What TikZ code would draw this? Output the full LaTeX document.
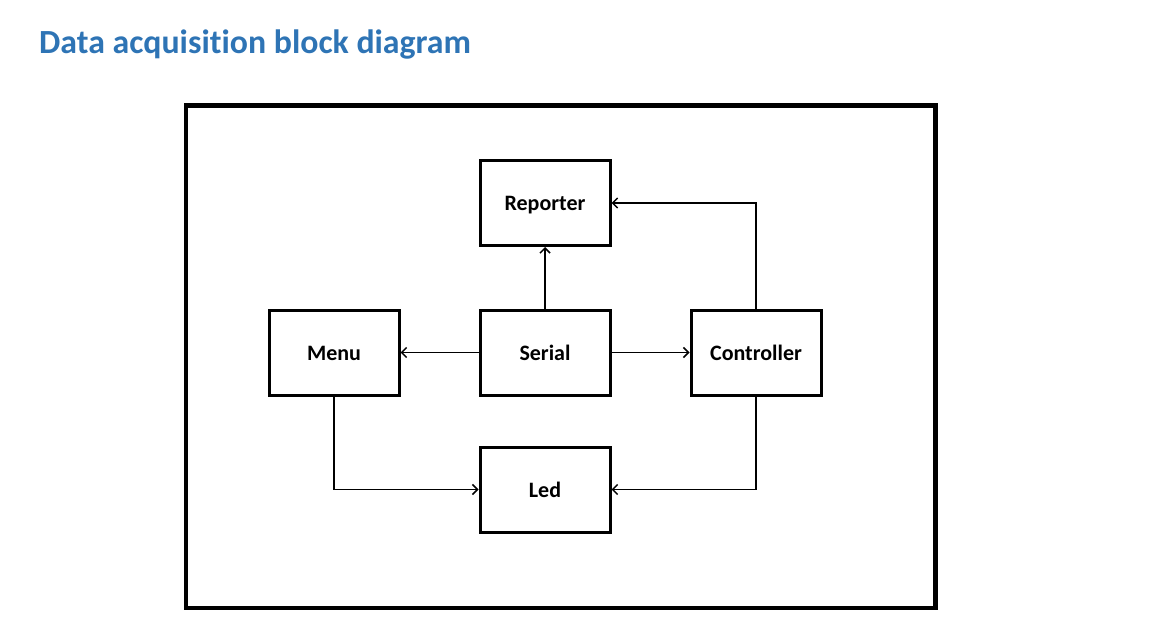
\documentclass[tikz,border=0pt]{standalone}
\usepackage{fontspec}
\setmainfont{Carlito}[Ligatures=NoCommon]
\usepackage{xcolor}
\usetikzlibrary{arrows.meta}
\definecolor{titleblue}{HTML}{2E74B5}

\begin{document}
\begin{tikzpicture}[x=1pt, y=-1pt,
        block/.style={draw=black, line width=3pt, minimum width=130pt, minimum height=85pt, text height=17pt, text depth=1pt, font=\fontsize{22}{24}\selectfont\bfseries},
        link/.style={line width=1.5pt, -{Straight Barb[length=5pt, width=10pt, line width=1.5pt]}}]
        \useasboundingbox (0, 0) rectangle (1154, 639);
        \node[anchor=base west, text=titleblue, font=\fontsize{33.8}{36}\selectfont\bfseries, inner sep=0pt] (title) at (39, 53.5) {Data acquisition block diagram};
        \draw[line width=4.5pt] (186, 105.5) rectangle (935.5, 608);
        \node[block] (reporter) at (545, 203) {Reporter};
        \node[block] (serial) at (545, 352.5) {Serial};
        \node[block] (menu) at (334, 352.5) {Menu};
        \node[block] (controller) at (756, 352.5) {Controller};
        \node[block] (led) at (545, 489.5) {Led};
        \draw[link] (serial) -- (reporter);
        \draw[link] (serial) -- (menu);
        \draw[link] (serial) -- (controller);
        \draw[link] (controller.north) |- (reporter.east);
        \draw[link] (menu.south) |- (led.west);
        \draw[link] (controller.south) |- (led.east);
    \end{tikzpicture}
\end{document}
